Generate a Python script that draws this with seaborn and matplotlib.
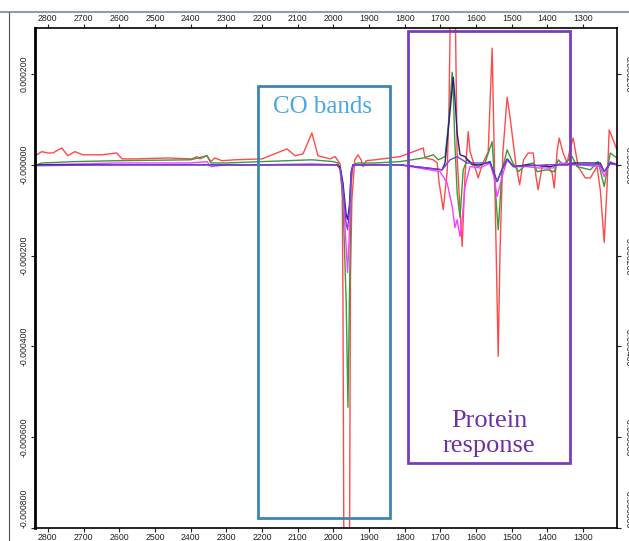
import pandas as pd
import seaborn as sns
import matplotlib.pyplot as plt
from matplotlib.patches import Rectangle
from matplotlib.lines import Line2D

# difference spectra, wavenumber (cm-1) and absorbance in units of 1e-6
red_wn = [2836, 2831, 2817, 2800, 2786, 2761, 2744, 2724, 2702, 2649, 2607, 2592, 2556, 2464,
          2396, 2382, 2374, 2354, 2343, 2332, 2312, 2276, 2200, 2130, 2107, 2085, 2060, 2043,
          2009, 1995, 1987, 1981, 1975, 1973, 1968, 1957, 1952, 1948, 1940, 1931, 1922, 1917,
          1908, 1883, 1813, 1748, 1743, 1720, 1709, 1704, 1692, 1681, 1676, 1670, 1660, 1653,
          1639, 1631, 1622, 1617, 1608, 1594, 1583, 1566, 1555, 1547, 1538, 1533, 1525, 1513,
          1505, 1489, 1478, 1467, 1454, 1440, 1432, 1426, 1415, 1401, 1387, 1381, 1373, 1367,
          1356, 1345, 1336, 1328, 1314, 1294, 1280, 1261, 1252, 1241, 1233, 1227, 1216, 1205]
red_val = [22, 22, 29, 26, 26, 37, 20, 29, 22, 22, 26, 13, 13, 15,
           13, 18, 13, 20, 7, 15, 9, 11, 13, 35, 20, 24, 70, 20,
           13, 18, 9, 2, -60, -297, -1400, -1400, -250, -77, 11, 22, 11, -4,
           9, 11, 18, 37, 15, 11, 4, -37, -99, -15, 125, 450, 450, 15,
           -180, -22, 73, 29, 7, -29, 0, 29, 257, -59, -422, -193, 26, 149,
           106, 4, -44, 11, 26, 26, -26, -55, -4, 0, -18, -51, 29, 59,
           26, 4, 37, 59, -4, -29, -29, -4, -55, -171, -48, 77, 55, 33]

green_wn = [2836, 2831, 2817, 2724, 2607, 2400, 2354, 2343, 2300, 2200, 2130, 2060, 2000, 1987,
            1981, 1973, 1964, 1959, 1955, 1950, 1945, 1931, 1883, 1813, 1748, 1720, 1706, 1687,
            1676, 1667, 1664, 1659, 1653, 1645, 1636, 1625, 1611, 1594, 1575, 1555, 1550, 1538,
            1527, 1513, 1497, 1481, 1461, 1440, 1429, 1401, 1381, 1370, 1356, 1331, 1317, 1280,
            1258, 1241, 1224, 1205]
green_val = [-9, 0, 4, 7, 9, 11, 20, 4, 4, 7, 9, 11, 7, 4,
             -10, -80, -300, -534, -300, -40, 0, 4, 4, 7, 15, 22, 11, 18,
             99, 204, 158, 40, -62, -116, -11, 11, 4, -4, 4, 51, -11, -143,
             -11, 33, 4, -15, 0, 4, -15, -11, -15, 11, 0, 18, -4, -11,
             7, -48, 26, 15]

magenta_wn = [2836, 2700, 2607, 2400, 2354, 2343, 2300, 2200, 2060, 1990, 1981, 1973, 1964, 1960,
              1955, 1950, 1945, 1813, 1701, 1681, 1667, 1659, 1653, 1645, 1639, 1631, 1617, 1589,
              1561, 1550, 1541, 1527, 1513, 1495, 1457, 1429, 1384, 1364, 1252, 1241, 1224, 1205]
magenta_val = [0, 2, 4, 4, 7, -4, 0, 0, 2, 0, -10, -60, -180, -237,
               -150, -30, 0, 0, -15, -40, -92, -138, -121, -158, -121, -48, -4, -7,
               4, -26, -70, -26, 11, -4, -4, -7, -7, 4, -4, -26, 7, 0]

navy_wn = [2836, 2060, 1990, 1981, 1973, 1964, 1960, 1955, 1950, 1945, 1813, 1695, 1687, 1678,
           1664, 1659, 1653, 1645, 1631, 1611, 1589, 1561, 1541, 1530, 1513, 1495, 1457, 1392,
           1373, 1345, 1328, 1252, 1241, 1224, 1205]
navy_val = [0, 0, 0, -5, -40, -110, -120, -90, -15, 0, 0, -11, 4, 77,
            193, 143, 70, 22, 18, 0, 0, 7, -37, -15, 13, -4, 0, -4,
            0, 0, 4, 4, -15, 4, 0]

purple_wn = [2836, 2600, 2400, 2060, 1990, 1981, 1973, 1964, 1960, 1955, 1950, 1945, 1813, 1695,
             1673, 1653, 1625, 1561, 1541, 1530, 1513, 1495, 1400, 1252, 1241, 1224, 1205]
purple_val = [-2, 0, 0, 0, 0, -8, -50, -130, -143, -100, -20, 0, 0, -11,
              11, 18, 4, 4, -37, -15, 11, -4, 0, 0, -15, 2, 0]

series = {
    'red': (red_wn, red_val),
    'green': (green_wn, green_val),
    'magenta': (magenta_wn, magenta_val),
    'navy': (navy_wn, navy_val),
    'purple': (purple_wn, purple_val),
}
palette = {'red': '#ff4a4a', 'green': '#3c9a3c', 'magenta': '#ff3cff',
           'navy': '#23237a', 'purple': '#7b3fe0'}

x_ticks = [2800, 2700, 2600, 2500, 2400, 2300, 2200, 2100, 2000, 1900, 1800, 1700, 1600, 1500, 1400, 1300]
y_ticks = [0.0002, 0.0, -0.0002, -0.0004, -0.0006, -0.0008]
y_tick_labels = ['0.000200', '-0.000000', '-0.000200', '-0.000400', '-0.000600', '-0.000800']

frames = []
for name, (wn, val) in series.items():
    frames.append(pd.DataFrame({'wn': wn, 'abs': [v * 1e-6 for v in val], 'trace': name}))
df = pd.concat(frames, ignore_index=True)

sns.set_style('white')
plt.rcParams['font.family'] = ['Liberation Sans', 'DejaVu Sans']

fig = plt.figure(figsize=(6.29, 5.41), dpi=100)
ax = fig.add_axes([0.0556, 0.024, 0.9254, 0.924])

for name in series:
    sub = df[df['trace'] == name]
    sns.lineplot(data=sub, x='wn', y='abs', color=palette[name], lw=1.0,
                 sort=False, estimator=None, ax=ax, legend=False)

ax.set_xlim(2836, 1205)
ax.set_ylim(-0.0008, 0.000301)
ax.set_xlabel('')
ax.set_ylabel('')

ax.set_xticks(x_ticks)
ax.set_xticklabels([str(t) for t in x_ticks])
ax.set_yticks(y_ticks)
ax.set_yticklabels(y_tick_labels)
ax.tick_params(axis='x', top=True, bottom=True, labeltop=True, labelbottom=True,
               direction='out', length=3, width=0.8, labelsize=6.3, pad=0.5, colors='#222222')
ax.tick_params(axis='y', left=True, right=True, labelleft=True, labelright=True,
               direction='out', length=3, width=0.8, labelsize=6.3, pad=1.5, colors='#222222')
yt = ax.yaxis.get_major_ticks()
for i, t in enumerate(yt):
    va = 'bottom' if i == len(yt) - 1 else 'center'
    t.label1.set_rotation(90)
    t.label1.set_va(va)
    t.label1.set_ha('right')
    t.label2.set_rotation(270)
    t.label2.set_va(va)
    t.label2.set_ha('left')

for side, sp in ax.spines.items():
    sp.set_visible(True)
    sp.set_color('black')
    sp.set_linewidth(1.2)
ax.spines['left'].set_linewidth(2.0)

# highlighted regions
ax.add_patch(Rectangle((2211, -0.000778), 1841 - 2211, 0.000174 + 0.000778,
                       fill=False, ec='#3d86b2', lw=2.0, zorder=5))
ax.add_patch(Rectangle((1791, -0.000657), 1336 - 1791, 0.0002945 + 0.000657,
                       fill=False, ec='#7a3db8', lw=2.0, zorder=5))
ax.text(2029, 0.000127, 'CO bands', color='#4aa8e0', fontsize=18,
        family=['Liberation Serif', 'DejaVu Serif'], ha='center', va='center')
ax.text(1563, -0.000592, 'Protein\nresponse', color='#7030a0', fontsize=19,
        family=['Liberation Serif', 'DejaVu Serif'], ha='center', va='center', linespacing=1.2)

# window frame of the original screenshot
fig.add_artist(Line2D([0, 1], [1 - 12 / 541, 1 - 12 / 541], color='#8d9db5', lw=1.5))
fig.add_artist(Line2D([9 / 629, 9 / 629], [0, 1 - 12 / 541], color='#555555', lw=0.8))

fig.savefig('out.png', dpi=100)
